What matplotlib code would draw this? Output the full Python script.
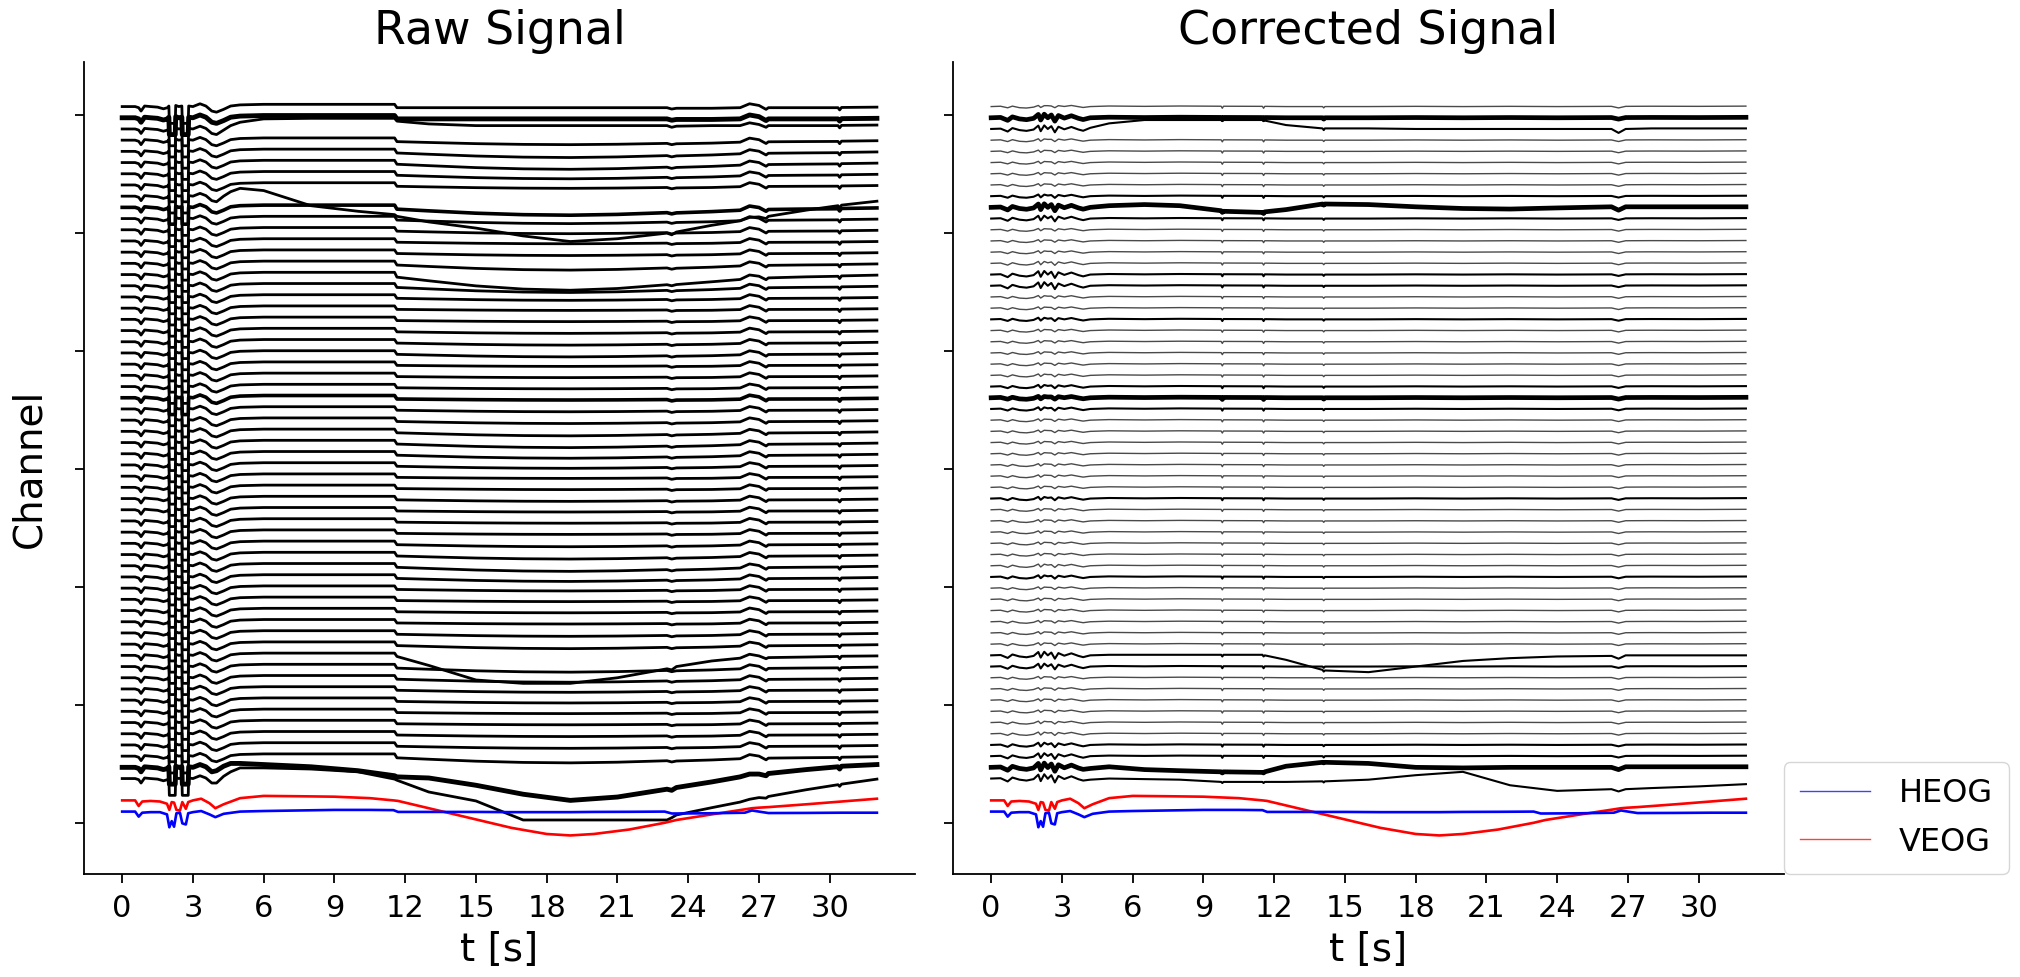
import matplotlib.pyplot as plt
import numpy as np
from matplotlib.lines import Line2D

# ---- EOG channels (same in both panels), values in channel-spacing units ----
eog_t = [0.0, 0.55, 0.7, 0.85, 1.2, 1.6, 1.9, 2.0, 2.1, 2.2, 2.3, 2.45, 2.55, 2.7, 2.8,
         3.0, 3.35, 3.7, 3.95, 4.3, 5.0, 6.0, 7.5, 9.0, 10.5, 11.5, 11.7, 12.3, 13.5,
         15.0, 16.5, 18.0, 19.0, 20.0, 21.5, 23.0, 23.3, 23.5, 25.0, 26.4, 26.7, 27.0,
         27.4, 29.0, 30.5, 32.0]
veog = [2.05, 2.05, 1.55, 1.95, 2.0, 1.95, 1.75, 1.2, 1.9, 1.85, 1.2, 1.15, 1.9, 1.3, 1.9,
        2.05, 2.2, 1.8, 1.35, 1.7, 2.25, 2.45, 2.42, 2.38, 2.25, 2.05, 2.0, 1.7, 1.1,
        0.35, -0.4, -0.95, -1.08, -0.95, -0.55, 0.05, 0.2, 0.3, 0.8, 1.25, 1.35, 1.4,
        1.45, 1.7, 1.95, 2.2]
heog = [1.05, 1.05, 0.6, 0.95, 1.0, 1.0, 0.8, -0.35, 0.2, -0.3, 0.9, 0.95, 0.0, -0.1, 0.9,
        1.0, 1.1, 0.8, 0.55, 0.85, 1.05, 1.1, 1.15, 1.2, 1.2, 1.18, 1.02, 1.02, 1.02,
        1.02, 1.0, 1.0, 1.0, 1.02, 1.03, 1.05, 0.88, 0.88, 0.9, 0.95, 1.15, 1.05,
        0.92, 0.93, 0.95, 0.95]

# ---- raw signal: blink part (common to all channels) ----
raw_blink_t = [0.0, 0.55, 0.7, 0.8, 0.95, 1.2, 1.5, 1.75, 1.92, 1.98, 2.0, 2.25, 2.27, 2.4,
               2.53, 2.55, 2.8, 2.82, 3.0, 3.3, 3.55, 3.8]
raw_blink_v = [0.0, 0.0, -0.1, -0.4, 0.05, 0.0, -0.05, -0.2, -0.1, 0.05, -1.5, -1.5, 0.1, 0.0,
               0.05, -1.5, -1.5, 0.05, 0.0, 0.25, 0.05, -0.4]

# ---- raw signal: remainder of the recording ----
raw_late_t = [4.0, 4.3, 4.6, 5.0, 6.0, 8.0, 10.0, 11.55, 11.65, 13.0, 15.0, 17.0, 19.0, 21.0,
              23.1, 23.3, 23.5, 25.0, 26.2, 26.6, 27.0, 27.3, 27.4, 29.0, 30.35, 30.42, 30.5, 32.0]
raw_late_v = [-0.5, -0.25, 0.05, 0.15, 0.2, 0.2, 0.2, 0.2, -0.1, -0.1, -0.1, -0.1, -0.1, -0.1,
              -0.1, -0.22, -0.15, -0.15, -0.1, 0.25, 0.1, -0.25, -0.1, -0.1, -0.1, -0.3, -0.08, -0.05]
raw_dip_v = [0, 0, 0, 0, 0, 0, 0, 0, -0.1, -0.35, -0.7, -0.92, -1.0, -0.88,
             -0.62, -0.6, -0.57, -0.38, -0.26, -0.22, -0.19, -0.16, -0.15, -0.08, -0.04, -0.04, -0.03, 0]
raw_dip_amp = [0, 0, 0, 0.3, 0.45, 0.5, 0.35, 0.2, 0, 0.6, 0.35, 0.25, 0.15, 0.2, 0.5, 1.3,
               0.5, 0.2, 0.1, 0.1, 0.15, 0.2, 0.25, 0.1, 0.1, 0.1, 0.1, 0.15, 0.2, 0.3, 0.35,
               0.3, 0.2, 0.1, 0.1, 0.15, 0.1, 0.1, 0.1, 0.2, 0.3, 0.4, 0.3, 0.15, 0.1, 0.1,
               0.1, 0.2, 0.3, 0, 0.4, 0.3, 0.2, 0.15, 0.1, 0.1, 0.15, 0.2, 0.5, 0, 0]
raw_ch2 = [-0.5, -0.1, 0.3, 0.6, 0.9, 0.95, 0.95, 0.95, 0.7, 0.45, 0.3, 0.3, 0.3, 0.3,
           0.3, 0.15, 0.25, 0.3, 0.3, 0.55, 0.4, 0.15, 0.3, 0.3, 0.3, 0.1, 0.32, 0.35]
raw_ch8 = [-0.5, 0.0, 0.4, 0.7, 0.5, -0.85, -1.35, -1.65, -1.8, -2.3, -2.85, -3.55, -4.05, -3.8,
           -3.3, -3.45, -3.2, -2.6, -2.2, -1.9, -1.85, -2.0, -1.8, -1.25, -0.85, -1.05, -0.8, -0.45]
raw_ch49 = [-0.5, -0.25, 0.05, 0.15, 0.2, 0.2, 0.2, 0.2, -0.1, -0.9, -2.2, -2.5, -2.5, -2.0,
            -1.2, -1.3, -1.0, -0.5, -0.25, 0.1, -0.05, -0.3, -0.2, -0.15, -0.1, -0.3, -0.08, -0.05]
raw_ch59 = [-0.3, 0.1, 0.35, 0.35, 0.25, 0.05, -0.3, -0.75, -0.85, -0.95, -1.6, -2.4, -2.95, -2.65,
            -1.95, -2.05, -1.8, -1.3, -0.85, -0.6, -0.6, -0.75, -0.55, -0.2, 0.05, -0.15, 0.1, 0.25]
raw_ch60 = [-0.4, 0.2, 0.6, 0.95, 0.95, 0.85, 0.6, -0.05, -0.15, -1.2, -2.0, -3.7, -3.7, -3.7,
            -3.7, -3.5, -3.25, -2.6, -2.1, -1.85, -1.7, -1.75, -1.6, -1.0, -0.55, -0.7, -0.5, -0.05]

# ---- corrected signal ----
corr_blink_t = [0.0, 0.4, 0.7, 0.9, 1.2, 1.5, 1.8, 2.0, 2.1, 2.25, 2.4, 2.55, 2.7, 2.85,
                3.1, 3.4, 3.7, 3.9]
corr_blink_v = [0.0, 0.03, -0.08, 0.03, -0.1, -0.12, -0.05, 0.05, -0.05, 0.02, 0.1, 0.0,
                -0.05, 0.05, 0.02, 0.08, 0.0, -0.06]
corr_resid_v = [0.0, 0.0, -0.15, 0.05, 0.0, -0.05, 0.0, 0.25, -0.15, 0.3, -0.1, 0.25,
                -0.25, 0.15, -0.05, 0.1, -0.05, -0.1]
corr_resid_amp = [0.2, 1.0, 1.0, 0.3, 0.25, 0.25, 0.25, 0.25, 0.4, 1.0, 0.8, 0.25, 0.25,
                  0.3, 0.5, 1.0, 1.0, 0.3, 0.25, 0.4, 0.25, 0.25, 0.25, 0.25, 0.3, 0.4, 0.3,
                  0.4, 0.25, 0.25, 0.25, 0.25, 0.25, 0.25, 0.25, 0.4, 0.25, 0.25, 0.25, 0.25,
                  0.25, 0.4, 0.4, 0.25, 0.25, 0.25, 0.25, 0.25, 0.3, 1.0, 0.8, 0.25, 0.25,
                  0.25, 0.25, 0.3, 0.4, 0.6, 0.8, 1.2, 1.2]
corr_late_t = [4.2, 5.0, 6.5, 8.0, 9.75, 9.8, 9.85, 11.5, 11.55, 11.6, 12.5, 14.05, 14.1,
               14.15, 16.0, 18.0, 20.0, 22.0, 24.0, 26.3, 26.6, 26.9, 28.0, 30.0, 32.0]
corr_late_v = [0.0, 0.05, 0.02, 0.05, 0.03, -0.15, 0.03, 0.02, -0.15, 0.02, 0.0, 0.0, -0.12,
               0.0, 0.0, 0.02, 0.0, 0.02, 0.0, 0.02, -0.12, 0.02, 0.03, 0.02, 0.04]
corr_ch2 = [0.1, 0.5, 0.8, 0.8, 0.8, 0.7, 0.8, 0.8, 0.7, 0.75, 0.35, 0.05, -0.1,
            0.05, 0.05, 0.0, 0.0, 0.0, 0.0, 0.0, -0.35, 0.0, 0.05, 0.05, 0.05]
corr_ch9 = [0.0, 0.15, 0.25, 0.15, -0.3, -0.45, -0.35, -0.45, -0.55, -0.4, -0.2, 0.3, 0.2,
            0.3, 0.25, 0.05, -0.1, -0.15, -0.05, 0.05, -0.25, 0.05, 0.05, 0.05, 0.05]
corr_ch49 = [0.0, 0.05, 0.05, 0.05, 0.05, -0.1, 0.05, 0.05, -0.1, 0.0, -0.4, -1.3, -1.45,
             -1.35, -1.5, -1.0, -0.5, -0.25, -0.1, -0.05, -0.3, 0.0, 0.0, 0.0, 0.0]
corr_ch59 = [-0.1, 0.05, -0.2, -0.3, -0.4, -0.5, -0.4, -0.45, -0.5, -0.4, 0.1, 0.45, 0.4,
             0.45, 0.35, 0.0, -0.05, 0.0, 0.0, 0.0, -0.2, 0.05, 0.05, 0.05, 0.05]
corr_ch60 = [-0.1, 0.0, -0.05, -0.1, -0.3, -0.4, -0.3, -0.3, -0.4, -0.3, -0.3, -0.25, -0.35,
             -0.25, -0.1, 0.3, 0.6, -0.6, -1.1, -0.95, -1.15, -0.95, -0.85, -0.7, -0.5]

n_ch = 61
offsets = np.arange(64, 64 - n_ch, -1)   # top channel first
raw_special = {2: raw_ch2, 8: raw_ch8, 49: raw_ch49, 59: raw_ch59, 60: raw_ch60}
corr_special = {2: corr_ch2, 9: corr_ch9, 49: corr_ch49, 59: corr_ch59, 60: corr_ch60}
corr_thick = [1, 9, 26, 59]
corr_dark = [2, 8, 10, 15, 16, 19, 25, 27, 35, 42, 49, 50, 57, 58, 60]
raw_thick = [1, 59]
raw_bold = [9, 26]

fig = plt.figure(figsize=(20.2, 9.77), dpi=100)
ax1 = fig.add_axes([0.0418, 0.1058, 0.4110, 0.8304])
ax2 = fig.add_axes([0.4720, 0.1058, 0.4110, 0.8304])

t_raw = np.concatenate([raw_blink_t, raw_late_t])
for i in range(n_ch):
    if i in raw_special:
        late = np.array(raw_special[i])
    else:
        late = np.array(raw_late_v) + raw_dip_amp[i] * np.array(raw_dip_v)
    y = offsets[i] + np.concatenate([raw_blink_v, late])
    lw = 3.5 if i in raw_thick else (2.6 if i in raw_bold else 2.0)
    ax1.plot(t_raw, y, color='black', lw=lw)

t_corr = np.concatenate([corr_blink_t, corr_late_t])
for i in range(n_ch):
    blink = np.array(corr_blink_v) + corr_resid_amp[i] * np.array(corr_resid_v)
    late = np.array(corr_special.get(i, corr_late_v))
    y = offsets[i] + np.concatenate([blink, late])
    if i in corr_thick:
        ax2.plot(t_corr, y, color='black', lw=3.4)
    elif i in corr_dark:
        ax2.plot(t_corr, y, color='black', lw=1.5)
    else:
        ax2.plot(t_corr, y, color='#4a4a4a', lw=1.0)

for ax in (ax1, ax2):
    ax.plot(eog_t, veog, color='red', lw=1.9)
    ax.plot(eog_t, heog, color='blue', lw=1.9)
    ax.set_xlim(-1.6, 33.6)
    ax.set_ylim(-4.49, 67.95)
    ax.set_xticks(np.arange(0, 31, 3))
    ax.set_yticks(np.arange(7) * 10.54)
    ax.set_yticklabels([])
    ax.spines['top'].set_visible(False)
    ax.spines['right'].set_visible(False)
    for s in ('left', 'bottom'):
        ax.spines[s].set_linewidth(1.3)
    ax.tick_params(length=6.7, width=1.3, labelsize=22, pad=8)
    ax.set_xlabel('t [s]', fontsize=28, labelpad=6)

ax1.set_title('Raw Signal', fontsize=33, pad=13)
ax2.set_title('Corrected Signal', fontsize=33, pad=13)
ax1.set_ylabel('Channel', fontsize=28)
ax1.yaxis.set_label_coords(-0.044, 0.5)

handles = [Line2D([], [], color='blue', lw=1.0, alpha=0.75),
           Line2D([], [], color='red', lw=1.0, alpha=0.75)]
ax2.legend(handles, ['HEOG', 'VEOG'], loc='lower left', bbox_to_anchor=(1.0, 0.0),
           borderaxespad=0, fontsize=23, borderpad=0.5, handlelength=2.2,
           handletextpad=0.9, labelspacing=0.55)

fig.savefig('out.png', dpi=100)
